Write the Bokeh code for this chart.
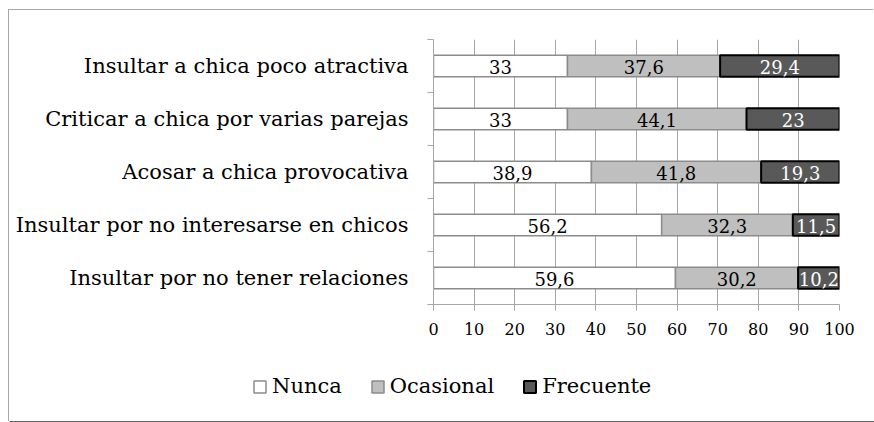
from bokeh.plotting import figure
from bokeh.layouts import column
from bokeh.models import (ColumnDataSource, FixedTicker, Range1d, Legend, LegendItem)
from bokeh.embed import file_html
from bokeh.resources import INLINE
from bokeh.core.properties import value

categories = ["Insultar a chica poco atractiva",
              "Criticar a chica por varias parejas",
              "Acosar a chica provocativa",
              "Insultar por no interesarse en chicos",
              "Insultar por no tener relaciones"]
nunca = [33, 33, 38.9, 56.2, 59.6]
ocasional = [37.6, 44.1, 41.8, 32.3, 30.2]
frecuente = [29.4, 23, 19.3, 11.5, 10.2]
series_names = ["Nunca", "Ocasional", "Frecuente"]
x_ticks = [0, 10, 20, 30, 40, 50, 60, 70, 80, 90, 100]

FONT = "DejaVu Serif"
GRID = "#a6a6a6"
n = len(categories)
ypos = [n - i - 0.5 for i in range(n)]

def fmt(v):
    return ("%g" % v).replace(".", ",")

left1 = [0] * n
right1 = nunca
left2 = nunca
right2 = [a + b for a, b in zip(nunca, ocasional)]
left3 = right2
right3 = [a + b for a, b in zip(right2, frecuente)]

src = ColumnDataSource(dict(
    y=ypos, l1=left1, r1=right1, l2=left2, r2=right2, l3=left3, r3=right3,
    m1=[(a + b) / 2 for a, b in zip(left1, right1)],
    m2=[(a + b) / 2 for a, b in zip(left2, right2)],
    m3=[(a + b) / 2 for a, b in zip(left3, right3)],
    t1=[fmt(v) for v in nunca], t2=[fmt(v) for v in ocasional], t3=[fmt(v) for v in frecuente],
))

styles = [dict(fill_color="white", line_color="#8c8c8c", line_width=1.5),
          dict(fill_color="#bfbfbf", line_color="#8c8c8c", line_width=1.5),
          dict(fill_color="#595959", line_color="black", line_width=2)]

W = 865
p = figure(width=W, height=350, output_backend="svg", toolbar_location=None, title=None,
           x_range=Range1d(0, 100), y_range=Range1d(0, n),
           min_border_left=424, min_border_right=W - 424 - 406, min_border_top=29,
           min_border_bottom=56)
p.frame_align = False
p.outline_line_color = None
p.background_fill_color = "white"

p.xgrid.ticker = FixedTicker(ticks=x_ticks)
p.xgrid.grid_line_color = GRID
p.ygrid.grid_line_color = None

bh = 0.41
r1 = p.hbar(y="y", left="l1", right="r1", height=bh, source=src, **styles[0])
r2 = p.hbar(y="y", left="l2", right="r2", height=bh, source=src, **styles[1])
r3 = p.hbar(y="y", left="l3", right="r3", height=bh, source=src, **styles[2])

for mcol, tcol, color in [("m1", "t1", "black"), ("m2", "t2", "black"), ("m3", "t3", "white")]:
    p.text(x=mcol, y="y", text=tcol, source=src, text_align="center", text_baseline="middle",
           text_font=value(FONT), text_font_size="18px", text_color=color, y_offset=1)

xa = p.xaxis[0]
xa.ticker = FixedTicker(ticks=x_ticks)
xa.axis_line_color = GRID
xa.major_tick_line_color = GRID
xa.major_tick_out = 6
xa.major_tick_in = 0
xa.minor_tick_line_color = None
xa.major_label_text_font = FONT
xa.major_label_text_font_size = "16px"
xa.major_label_text_color = "black"
xa.major_label_standoff = 12

ya = p.yaxis[0]
ya.ticker = FixedTicker(ticks=ypos, minor_ticks=list(range(n + 1)))
ya.major_label_overrides = {y: c for y, c in zip(ypos, categories)}
ya.axis_line_color = GRID
ya.major_tick_line_color = None
ya.minor_tick_line_color = GRID
ya.minor_tick_out = 6
ya.minor_tick_in = 0
ya.major_label_text_font = FONT
ya.major_label_text_font_size = "21px"
ya.major_label_text_color = "black"
ya.major_label_standoff = 19

# legend strip
lg = figure(width=W, height=62, output_backend="svg", toolbar_location=None, title=None,
            x_range=Range1d(0, 1), y_range=Range1d(0, 1),
            min_border_left=0, min_border_right=0, min_border_top=0, min_border_bottom=0)
lg.frame_align = False
lg.axis.visible = False
lg.grid.visible = False
lg.outline_line_color = None
dummy = ColumnDataSource(dict(y=[-10], left=[0], right=[1]))
lr = [lg.hbar(y="y", left="left", right="right", height=1, source=dummy, **s) for s in styles]

legend = Legend(items=[LegendItem(label=name, renderers=[r]) for name, r in zip(series_names, lr)],
                orientation="horizontal", location=(243, 24),
                glyph_width=15, glyph_height=15, label_standoff=5, spacing=28,
                padding=0, margin=0, border_line_color=None, background_fill_alpha=0,
                label_text_font=FONT, label_text_font_size="21px", label_text_color="black")
lg.add_layout(legend, "center")

layout = column(p, lg, spacing=0, margin=(10, 0, 0, 9),
                styles={"box-shadow": "-1px -1px 0 0 #a6a6a6", "outline": "none", "border": "none"})

open("out.html", "w").write(file_html(layout, INLINE))
